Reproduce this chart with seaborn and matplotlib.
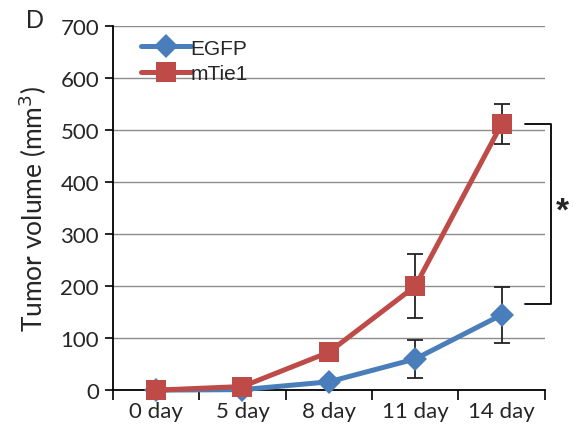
import matplotlib
matplotlib.use("Agg")
import matplotlib.pyplot as plt
import seaborn as sns
import pandas as pd
import numpy as np

days = ["0 day", "5 day", "8 day", "11 day", "14 day"]
egfp = [0, 1, 16, 60, 145]
egfp_err = [0, 0, 0, 37, 54]
mtie1 = [0, 7, 73, 200, 512]
mtie1_err = [0, 0, 0, 62, 38]

sns.set_theme(style="white")
plt.rcParams['font.family'] = ['Lato', 'DejaVu Sans']

df = pd.DataFrame({
    "pos": list(range(len(days))) * 2,
    "value": egfp + mtie1,
    "group": ["EGFP"] * len(days) + ["mTie1"] * len(days),
})

blue = "#4A7EBB"
red = "#BE4B48"

fig = plt.figure(figsize=(5.76, 4.39), dpi=100)
ax = fig.add_axes([0.196, 0.109, 0.75, 0.829])

ax.yaxis.grid(True, color="#8c8c8c", linewidth=1.0)
ax.set_axisbelow(True)

pos = np.arange(len(days))
ax.errorbar(pos, egfp, yerr=egfp_err, fmt="none", ecolor="#222222", elinewidth=1.3, capsize=6, capthick=1.3, zorder=2)
ax.errorbar(pos, mtie1, yerr=mtie1_err, fmt="none", ecolor="#222222", elinewidth=1.3, capsize=6, capthick=1.3, zorder=2)

sns.lineplot(data=df, x="pos", y="value", hue="group", style="group",
             palette={"EGFP": blue, "mTie1": red},
             markers={"EGFP": "D", "mTie1": "s"}, dashes=False,
             markersize=11, linewidth=3.6, markeredgewidth=0, ax=ax, zorder=3)

for line in ax.get_lines():
    c = matplotlib.colors.to_hex(line.get_color()).lower()
    if c == red.lower():
        line.set_zorder(5)
        line.set_markersize(15)
        line.set_clip_on(False)
    elif c == blue.lower():
        line.set_zorder(4)
        line.set_markersize(12)
        line.set_clip_on(False)

ax.set_xlim(-0.5, len(days) - 0.5)
ax.set_ylim(0, 700)
ax.set_yticks(range(0, 701, 100))
ax.set_xticks(np.arange(-0.5, len(days), 1.0))
ax.set_xticklabels([])
ax.set_xticks(pos, minor=True)
ax.set_xticklabels(days, minor=True, fontsize=16)
ax.tick_params(axis="x", which="major", direction="out", length=7, width=1.2, color="black", bottom=True)
ax.tick_params(axis="x", which="minor", length=0, pad=8)
ax.tick_params(axis="y", direction="out", length=6, width=1.2, color="black", left=True, labelsize=16, pad=4)
ax.set_xlabel("")
ax.set_ylabel("Tumor volume (mm$^3$)", fontsize=19, labelpad=8)

for s in ["top", "right"]:
    ax.spines[s].set_visible(False)
for s in ["left", "bottom"]:
    ax.spines[s].set_color("black")
    ax.spines[s].set_linewidth(1.3)

leg = ax.legend(title=None, loc="upper left", bbox_to_anchor=(0.035, 1.0), frameon=False,
                prop={"family": "Liberation Sans", "size": 15},
                handlelength=2.4, handletextpad=0.0, labelspacing=0.3, borderaxespad=0.2)
for h in leg.legend_handles:
    c = matplotlib.colors.to_hex(h.get_color()).lower()
    h.set_markersize(15 if c == red.lower() else 12)

# significance bracket
ax.plot([0.955, 1.015, 1.015, 0.955], [mtie1[-1], mtie1[-1], 165, 165],
        transform=ax.get_yaxis_transform(), color="black", linewidth=1.3, clip_on=False)
ax.text(1.04, 345, "*", transform=ax.get_yaxis_transform(), fontsize=24,
        ha="center", va="center", fontweight="bold", family="Liberation Sans")

fig.text(0.061, 0.952, "D", fontsize=18, ha="center", va="center", family="Liberation Sans")

fig.savefig("out.png", dpi=100)
